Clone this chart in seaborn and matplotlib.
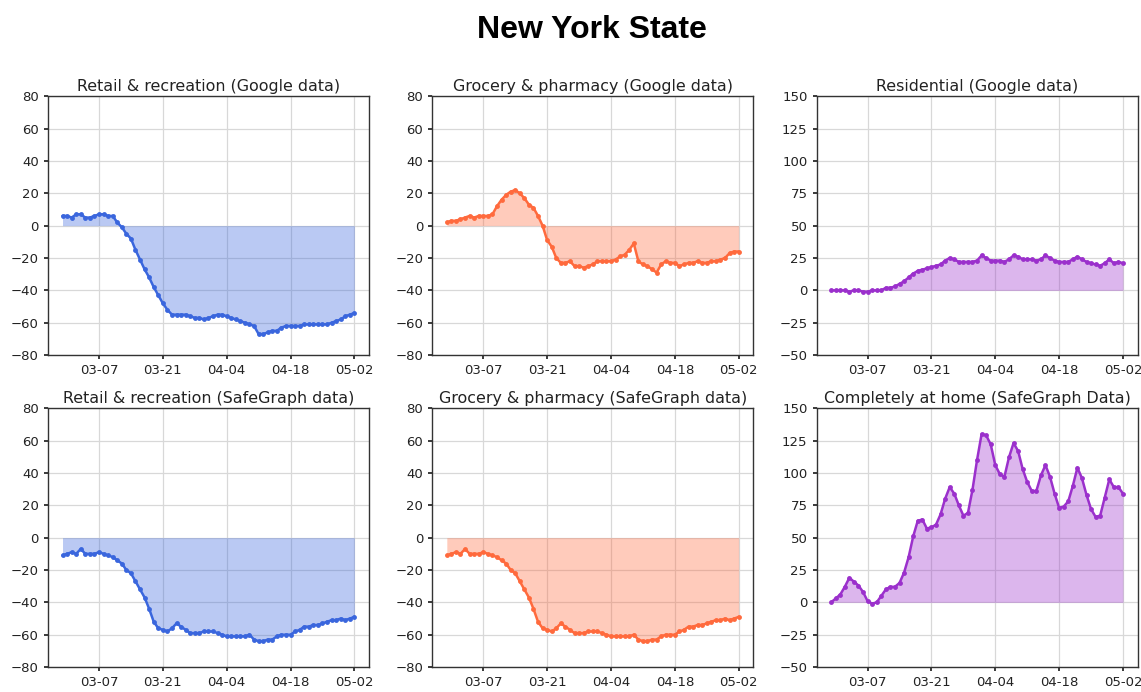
import numpy as np
import pandas as pd
import matplotlib
matplotlib.use("Agg")
import matplotlib.pyplot as plt
import matplotlib.dates as mdates
import seaborn as sns

start_date = "2020-02-28"
end_date = "2020-05-02"
tick_labels = ["03-07", "03-21", "04-04", "04-18", "05-02"]

retail_google = [6, 6, 5, 7, 7, 5, 5, 6, 7, 7, 6, 6, 2, -1, -5, -8, -15, -21, -27, -32,
                 -38, -43, -48, -52, -55, -55, -55, -55, -56, -57, -57, -58, -57, -56, -55, -55,
                 -56, -57, -58, -59, -60, -61, -62, -67, -67, -66, -65, -65, -63, -62, -62, -62,
                 -62, -61, -61, -61, -61, -61, -61, -60, -59, -58, -56, -55, -54]
grocery_google = [2, 3, 3, 4, 5, 6, 5, 6, 6, 6, 7, 12, 16, 19, 21, 22, 20, 17, 13, 11,
                  6, 0, -9, -13, -20, -23, -23, -22, -25, -25, -26, -25, -24, -22, -22, -22,
                  -22, -21, -19, -18, -15, -11, -22, -24, -25, -27, -29, -24, -22, -23, -23, -25,
                  -24, -23, -23, -22, -23, -23, -22, -22, -21, -20, -17, -16, -16]
residential_google = [0, 0, 0, 0, -1, 0, 0, -1, -1, 0, 0, 0, 2, 2, 3, 5, 7, 10, 13, 15,
                      16, 17, 18, 19, 20, 23, 25, 24, 22, 22, 22, 22, 23, 27, 25, 23,
                      23, 23, 22, 24, 27, 26, 24, 24, 24, 23, 24, 27, 25, 23, 22, 22,
                      22, 24, 26, 24, 22, 21, 20, 19, 21, 24, 21, 22, 21]
retail_safegraph = [-11, -10, -9, -10, -7, -10, -10, -10, -9, -10, -11, -12, -14, -16, -20, -22,
                    -27, -32, -37, -44, -52, -56, -57, -58, -56, -53, -55, -57, -59, -59, -59, -58,
                    -58, -58, -59, -60, -61, -61, -61, -61, -61, -60, -63, -64, -64, -63, -63, -61,
                    -60, -60, -60, -58, -57, -55, -55, -54, -54, -53, -52, -51, -51, -50, -51, -50, -49]
grocery_safegraph = [-11, -10, -9, -10, -7, -10, -10, -10, -9, -10, -11, -12, -14, -16, -20, -22,
                     -27, -32, -37, -44, -52, -56, -57, -58, -56, -53, -55, -57, -59, -59, -59, -58,
                     -58, -58, -59, -60, -61, -61, -61, -61, -61, -60, -63, -64, -64, -63, -63, -61,
                     -60, -60, -60, -58, -57, -55, -55, -54, -54, -53, -52, -51, -51, -50, -51, -50, -49]
home_safegraph = [0, 3, 6, 12, 19, 16, 13, 8, 1, -1, 0, 5, 10, 12, 12, 15, 23, 35, 51, 63,
                  64, 57, 58, 60, 68, 80, 89, 84, 75, 67, 69, 87, 110, 130, 129, 122, 106, 99,
                  97, 112, 123, 117, 103, 93, 86, 86, 98, 106, 97, 84, 73, 74, 78, 90, 104, 96,
                  83, 72, 66, 67, 81, 95, 89, 89, 84]

titles = ["Retail & recreation (Google data)", "Grocery & pharmacy (Google data)",
          "Residential (Google data)", "Retail & recreation (SafeGraph data)",
          "Grocery & pharmacy (SafeGraph data)", "Completely at home (SafeGraph Data)"]

dates = pd.date_range(start_date, end_date, freq="D")
series = [retail_google, grocery_google, residential_google,
          retail_safegraph, grocery_safegraph, home_safegraph]
colors = ["#3a66dd", "#ff6a3d", "#9b30cc", "#3a66dd", "#ff6a3d", "#9b30cc"]
ylims = [(-80, 80, 20), (-80, 80, 20), (-50, 150, 25),
         (-80, 80, 20), (-80, 80, 20), (-50, 150, 25)]

sns.set_theme(style="ticks")
plt.rcParams["font.family"] = ["DejaVu Sans"]
plt.rcParams["axes.edgecolor"] = "#333333"
plt.rcParams["axes.linewidth"] = 1.0

fig, axes = plt.subplots(2, 3, figsize=(11.41, 6.92), dpi=100)
fig.subplots_adjust(left=0.042, right=0.997, top=0.861, bottom=0.036,
                    wspace=0.197, hspace=0.205)

tick_dates = pd.to_datetime(["2020-" + t for t in tick_labels])

for ax, vals, col, title, (lo, hi, step) in zip(axes.flat, series, colors, titles, ylims):
    df = pd.DataFrame({"date": dates, "value": vals})
    ax.fill_between(df["date"], df["value"], 0, color=col, alpha=0.35, linewidth=0)
    sns.lineplot(data=df, x="date", y="value", ax=ax, color=col, linewidth=1.8,
                 marker="o", markersize=3.5, markeredgewidth=0)
    ax.set_ylim(lo, hi)
    ax.set_yticks(np.arange(lo, hi + 1, step))
    ax.set_xticks(tick_dates)
    ax.xaxis.set_major_formatter(mdates.DateFormatter("%m-%d"))
    ax.set_xlabel("")
    ax.set_ylabel("")
    ax.set_title(title, fontsize=11.4, color="#222222", pad=4)
    ax.grid(True, color="#d8d8d8", linewidth=0.9)
    ax.tick_params(labelsize=9.5, colors="#222222", length=3)
    for s in ax.spines.values():
        s.set_visible(True)

fig.suptitle("New York State", fontsize=23, fontweight="bold", color="black",
             family=["Liberation Sans", "DejaVu Sans"], x=0.519, y=0.978)

fig.savefig("out.png", dpi=100)
